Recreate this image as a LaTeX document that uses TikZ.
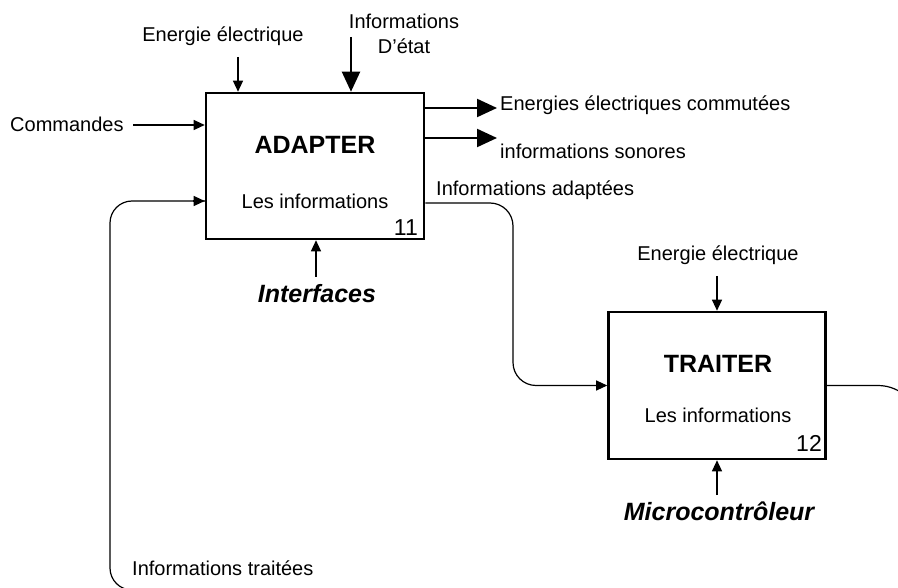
\documentclass[tikz,border=0pt]{standalone}
\usepackage{fontspec}
\setmainfont{Liberation Sans}
\usetikzlibrary{arrows.meta}
\tikzset{
  fbox/.style={draw, line width=2.6pt, minimum width=#1, inner sep=0pt},
  lbl/.style={inner sep=0pt, font=\fontsize{20}{24}\selectfont},
  num/.style={inner sep=0pt, font=\fontsize{23}{27}\selectfont},
  title/.style={inner sep=0pt, font=\fontsize{25}{30}\selectfont\bfseries},
  mech/.style={inner sep=0pt, font=\fontsize{25}{30}\selectfont\bfseries\itshape},
  thin/.style={line width=1.2pt, -{Triangle[length=11pt,width=10pt]}},
  thick/.style={line width=2.2pt, -{Triangle[length=20pt,width=18pt]}},
  flow/.style={line width=1.2pt}
}
\begin{document}
\begin{tikzpicture}[x=1pt,y=-1pt]
\clip (0,0) rectangle (898,588);
\fill[white] (0,0) rectangle (898,588);
% boxes
\node[fbox=218pt, minimum height=146pt] (adapter) at (315,166) {};
\node[fbox=217pt, minimum height=147pt] (traiter) at (717,385.5) {};
% adapter texts
\node[title, anchor=base] (adt) at (315,154) {ADAPTER};
\node[lbl, anchor=base] (adl) at (315,209) {Les informations};
\node[num, anchor=base east] (adn) at (418,236) {11};
% traiter texts
\node[title, anchor=base] (trt) at (718,373) {TRAITER};
\node[lbl, anchor=base] (trl) at (718,422) {Les informations};
\node[num, anchor=base east] (trn) at (822,451) {12};
% labels
\node[lbl, anchor=base] (en1) at (223,42) {Energie électrique};
\node[lbl, anchor=base] (inf1) at (404,29) {Informations};
\node[lbl, anchor=base] (inf2) at (404,54) {D’état};
\node[lbl, anchor=base west] (cmd) at (10,132) {Commandes};
\node[lbl, anchor=base west] (out1) at (500,111) {Energies électriques commutées};
\node[lbl, anchor=base west] (out2) at (500,159) {informations sonores};
\node[lbl, anchor=base west] (iad) at (436,196) {Informations adaptées};
\node[mech, anchor=base] (itf) at (317,303) {Interfaces};
\node[lbl, anchor=base] (en2) at (718,261) {Energie électrique};
\node[mech, anchor=base] (mcu) at (719,520) {Microcontrôleur};
\node[lbl, anchor=base west] (itr) at (132,575) {Informations traitées};
% connector ends
\coordinate (cEn1) at (238,57);
\coordinate (cInf) at (351,37);
\coordinate (cCmd) at (133,125);
\coordinate (cO1) at (497,108);
\coordinate (cO2) at (497,138);
\coordinate (cItf) at (316,277);
\coordinate (cEn2) at (717,276);
\coordinate (cMcu) at (717,495);
% connectors
\draw[thin] (cEn1) -- (cEn1 |- adapter.north);
\draw[thick] (cInf) -- (cInf |- adapter.north);
\draw[thin] (cCmd) -- (cCmd -| adapter.west);
\draw[thick] (cO1 -| adapter.east) -- (cO1);
\draw[thick] (cO2 -| adapter.east) -- (cO2);
\draw[thin] (cItf) -- (cItf |- adapter.south);
\draw[thin] (cEn2) -- (cEn2 |- traiter.north);
\draw[thin] (cMcu) -- (cMcu |- traiter.south);
% informations adaptees
\coordinate (cA1) at (424,203);
\draw[flow, rounded corners=23pt] (cA1 -| adapter.east) -- (513,203) -- (513,385.5)
  [sharp corners] -- ([xshift=-11pt]traiter.west);
\draw[thin] ([xshift=-12pt]traiter.west) -- (traiter.west);
% informations traitees (feedback)
\coordinate (cF) at (206,201);
\draw[flow] (traiter.east) -- (878,385.5) arc[start angle=90, end angle=0, radius=42pt]
  [rounded corners=22pt] -- (920,590) -- (110,590) -- (110,201) -- ([xshift=-20pt]cF -| adapter.west)
  [sharp corners] -- ([xshift=-11pt]cF -| adapter.west);
\draw[thin] ([xshift=-12pt]cF -| adapter.west) -- (cF -| adapter.west);
\end{tikzpicture}
\end{document}
